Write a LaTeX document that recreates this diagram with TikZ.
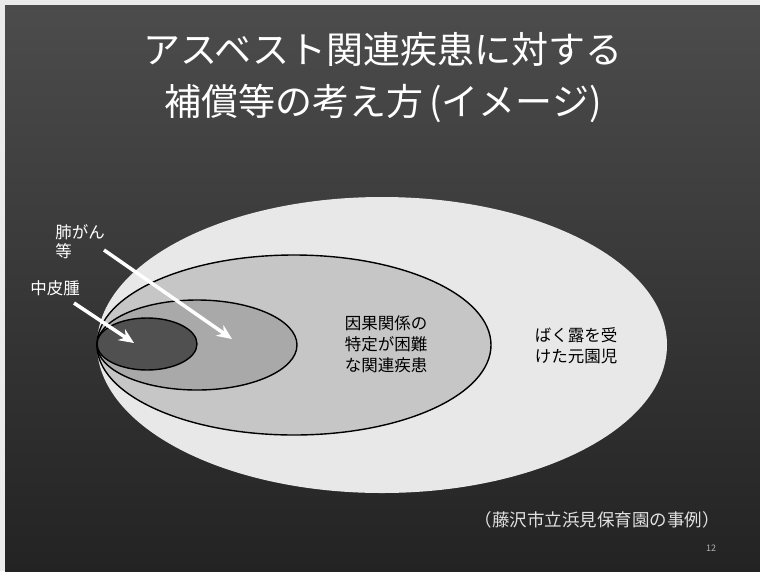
\documentclass[tikz,border=0pt]{standalone}
\usepackage{fontspec}
\setmainfont{Noto Sans CJK JP}
\usetikzlibrary{arrows.meta,positioning}
\definecolor{slidetop}{HTML}{4C4C4C}
\definecolor{slidebottom}{HTML}{232323}
\definecolor{exposed}{HTML}{E8E8E8}
\definecolor{related}{HTML}{C6C6C6}
\definecolor{lung}{HTML}{A9A9A9}
\definecolor{meso}{HTML}{505050}

\begin{document}
\begin{tikzpicture}[x=1pt,y=-1pt]
			\tikzset{>={Stealth[length=15pt,width=13pt]}}
			\tikzset{ring/.style={draw=black,line width=1.4pt}}
			\tikzset{pointer/.style={->,white,line width=3.5pt}}
			\tikzset{lbl/.style={text=white,font=\fontsize{16.5}{19}\selectfont,align=left,inner sep=0pt}}
			\tikzset{inlbl/.style={text=black,font=\fontsize{16.5}{21}\selectfont,align=left,inner sep=0pt}}
			\useasboundingbox (0,0) rectangle (760,571);
			\fill[white!92!black] (0,0) rectangle (760,571);
			\shade[top color=slidetop,bottom color=slidebottom] (5,5) rectangle (760,571);

			% title
			\node[text=white,font=\fontsize{37}{52}\selectfont,align=center] (title) at (383,78)
				{アスベスト関連疾患に対する\\補償等の考え方\,(イメージ)};

			% nested ellipses, all touching at the left
			\newcommand \LeftX{97};
			\coordinate (L) at (\LeftX,345);
			\fill[exposed] (382,345) ellipse [x radius=285pt,y radius=148pt];
			\draw[ring,fill=related] (294,345) ellipse [x radius=197pt,y radius=90pt];
			\draw[ring,fill=lung] (197,345) ellipse [x radius=100pt,y radius=45pt];
			\draw[ring,fill=meso] (147,344) ellipse [x radius=50pt,y radius=26pt];

			\node[inlbl] (related) at (386,344) {因果関係の\\特定が困難\\な関連疾患};
			\node[inlbl] (exposed) at (576,346) {ばく露を受\\けた元園児};

			% labels and arrows
			\node[lbl] (lungtxt) at (80,242) {肺がん\\等};
			\node[lbl] (mesotxt) at (55,288) {中皮腫};
			\coordinate (lungA) at (104,250);
			\coordinate (lungB) at (232,339);
			\coordinate (mesoA) at (74,303);
			\coordinate (mesoB) at (134,343);
			\draw[pointer] (lungA) -- (lungB);
			\draw[pointer] (mesoA) -- (mesoB);

			\node[text=white!88!black,font=\fontsize{17.5}{20}\selectfont] (case) at (597,520)
				{（藤沢市立浜見保育園の事例）};
			\node[text=white!70!black,font=\fontsize{9}{10}\selectfont] (page) at (711,548) {12};
		\end{tikzpicture}
\end{document}
